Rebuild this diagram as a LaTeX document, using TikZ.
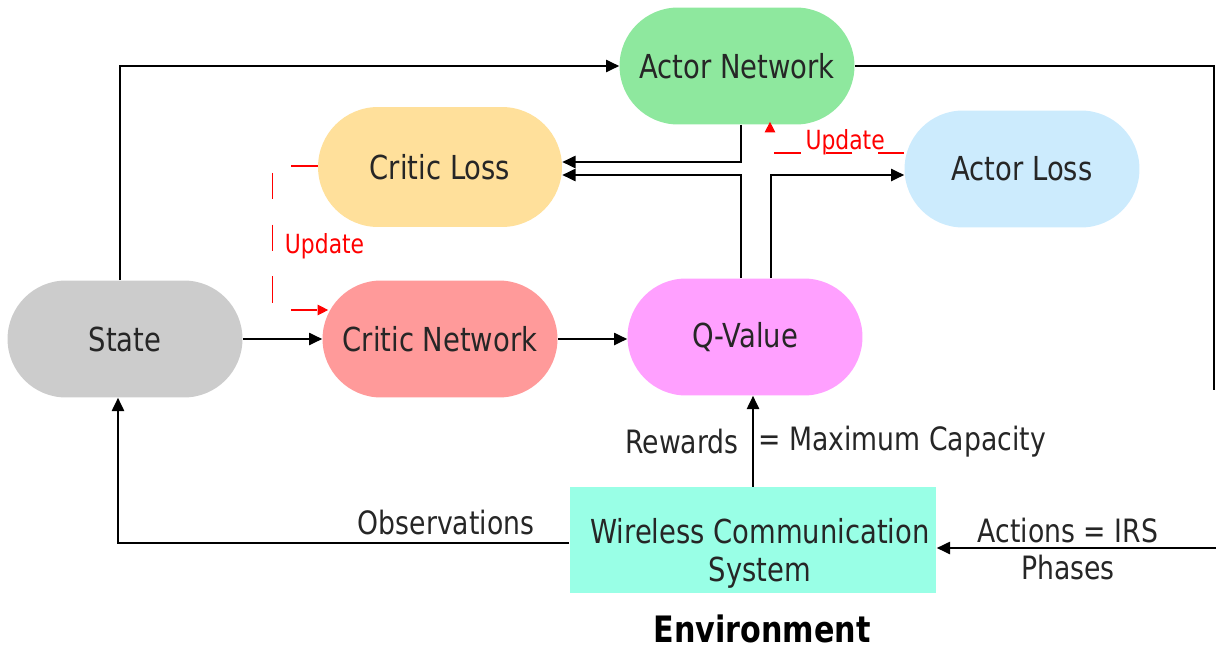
\documentclass[tikz,border=0pt]{standalone}
\usepackage{fontspec}
\setmainfont{DejaVu Sans}[FakeStretch=0.83]
\usepackage{tikz}
\usetikzlibrary{shapes.misc,arrows.meta,calc,positioning}

\definecolor{actorgreen}{HTML}{8EE89E}
\definecolor{closscol}{HTML}{FFE09B}
\definecolor{alosscol}{HTML}{CCEBFD}
\definecolor{stategray}{HTML}{CCCCCC}
\definecolor{cnetcol}{HTML}{FF9A9A}
\definecolor{qvalcol}{HTML}{FFA0FF}
\definecolor{wcscol}{HTML}{99FFE6}
\definecolor{textgray}{HTML}{262626}

\newcommand{\blockfont}{\fontsize{18.8}{21.5}\selectfont}
\newcommand{\labelfont}{\fontsize{18.3}{21}\selectfont}
\newcommand{\updatefont}{\fontsize{15}{18}\selectfont}
\newcommand{\envirofont}{\fontsize{20.7}{24}\selectfont\bfseries}

\tikzset{
  blocknode/.style={rounded rectangle, minimum width=4.7cm, minimum height=2.34cm,
    inner sep=0pt, text=textgray, font=\blockfont},
  plainlabel/.style={text=textgray, font=\labelfont, inner sep=0pt},
  flowline/.style={draw=black, line width=0.9pt},
  flowarrow/.style={flowline, -{Triangle[length=7.5pt,width=7pt]}},
  updatearrow/.style={draw=red, line width=0.6pt, dash pattern=on 15pt off 14.5pt,
    -{Triangle[length=6pt,width=6pt]}},
  updatelabel/.style={text=red, font=\updatefont, inner sep=1pt},
}

\begin{document}
\begin{tikzpicture}[x=0.02cm, y=-0.02cm]
\useasboundingbox (0,0) rectangle (1216,649);

% blocks
\node[blocknode, fill=actorgreen] (Actor) at (737,66) {Actor Network};
\node[blocknode, fill=closscol, minimum width=4.88cm, minimum height=2.4cm] (CLoss) at (440,167) {Critic Loss};
\node[blocknode, fill=alosscol] (ALoss) at (1022,169) {Actor Loss};
\node[blocknode, fill=stategray] (State) at (125,339) {State};
\node[blocknode, fill=cnetcol] (CNet) at (440,339) {Critic Network};
\node[blocknode, fill=qvalcol] (Qval) at (745,337) {Q-Value};
\node[fill=wcscol, minimum width=7.34cm, minimum height=2.12cm] (WCS) at (753,540) {};
\node[plainlabel, font=\blockfont, align=center] (WCStext) at (760,553) {Wireless Communication\\System};
\node[text=black, font=\envirofont, inner sep=0pt] (Env) at (762,629) {Environment};

% labels
\node[plainlabel, anchor=east] (Rew) at (739,442) {Rewards};
\node[plainlabel, anchor=west] (MaxCap) at (758,442) {= Maximum Capacity};
\node[plainlabel] (Obs) at (446,523) {Observations};
\node[plainlabel, align=center] (Act) at (1068,549) {Actions = IRS\\Phases};

\coordinate (rbot) at (1214,390);
\coordinate (actin) at (1216,548);

% connectors
\draw[flowarrow] ($(State.north)+(-5,0)$) |- (Actor.west);
\draw[flowline] (Actor.east) -| (rbot);
\draw[flowarrow] (actin) -- (actin -| WCS.east);
\draw[flowarrow] (State.east) -- (CNet.west);
\draw[flowarrow] (CNet.east) -- (CNet.east -| Qval.west);
\draw[flowarrow] ($(Actor.south)+(4,0)$) |- ($(CLoss.east)+(0,-5)$);
\draw[flowarrow] ($(Qval.north)+(-4,0)$) |- ($(CLoss.east)+(0,8)$);
\draw[flowarrow] ($(Qval.north)+(26,0)$) |- ($(ALoss.west)+(0,6)$);
\draw[flowarrow] (WCS.north) -- (WCS.north |- Qval.south);
\draw[flowarrow] ($(WCS.west)+(0,3)$) -| ($(State.south)+(-7,0)$);

% update paths
\draw[updatearrow] ($(ALoss.west)+(0,-16)$) -| node[pos=0.22, updatelabel, yshift=0.22cm] {Update} ($(Actor.south)+(33,-3)$);
\draw[updatearrow] ($(CLoss.west)+(0,-1)$) -- ++(-45,0) |- node[pos=0.28, anchor=west, xshift=0.2cm, updatelabel] {Update} ($(CNet.west)+(6,-29)$);
\end{tikzpicture}
\end{document}
